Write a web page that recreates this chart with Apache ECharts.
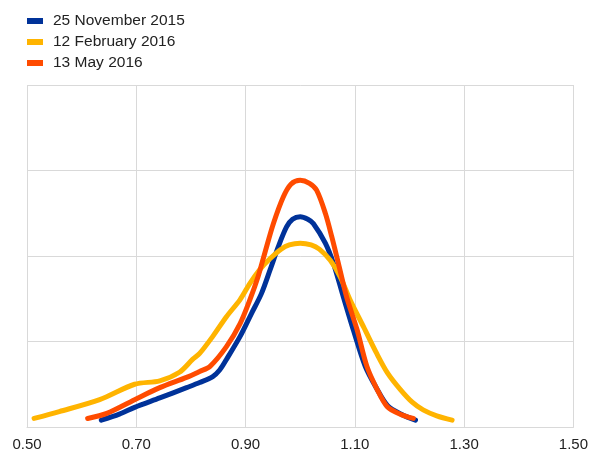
<!DOCTYPE html>
<html>
<head>
<meta charset="utf-8">
<script src="https://cdn.jsdelivr.net/npm/echarts@6/dist/echarts.min.js"></script>
<style>html,body{margin:0;padding:0;background:#fff}#c{width:591px;height:455px}</style>
</head>
<body>
<div id="c"></div>
<script>
var seriesNames = ['25 November 2015', '12 February 2016', '13 May 2016'];
var xTicks = ['0.50', '0.70', '0.90', '1.10', '1.30', '1.50'];

var novX = [0.636, 0.669, 0.697, 0.743, 0.792, 0.816, 0.840, 0.853, 0.865, 0.890, 0.911, 0.929, 0.945, 0.960, 0.975, 0.986, 1.000, 1.014, 1.024, 1.046, 1.061, 1.079, 1.097, 1.119, 1.140, 1.160, 1.185, 1.211];
var novY = [0.08, 0.15, 0.23, 0.34, 0.46, 0.52, 0.59, 0.67, 0.79, 1.06, 1.33, 1.56, 1.84, 2.11, 2.34, 2.43, 2.46, 2.43, 2.38, 2.15, 1.91, 1.52, 1.14, 0.71, 0.45, 0.25, 0.15, 0.08];

var febX = [0.513, 0.559, 0.633, 0.697, 0.743, 0.779, 0.803, 0.816, 0.840, 0.865, 0.890, 0.908, 0.926, 0.945, 0.965, 0.980, 1.000, 1.020, 1.035, 1.055, 1.073, 1.091, 1.116, 1.140, 1.160, 1.183, 1.205, 1.225, 1.250, 1.278];
var febY = [0.10, 0.18, 0.32, 0.50, 0.54, 0.64, 0.79, 0.86, 1.06, 1.29, 1.49, 1.68, 1.84, 1.97, 2.08, 2.13, 2.15, 2.13, 2.08, 1.95, 1.76, 1.49, 1.17, 0.86, 0.63, 0.44, 0.29, 0.20, 0.13, 0.08];

var mayX = [0.611, 0.646, 0.697, 0.743, 0.792, 0.816, 0.835, 0.865, 0.890, 0.908, 0.923, 0.935, 0.951, 0.969, 0.983, 1.000, 1.017, 1.030, 1.046, 1.058, 1.070, 1.085, 1.104, 1.122, 1.140, 1.159, 1.183, 1.207];
var mayY = [0.10, 0.16, 0.32, 0.46, 0.58, 0.65, 0.71, 0.94, 1.21, 1.49, 1.76, 2.03, 2.38, 2.69, 2.84, 2.885, 2.85, 2.77, 2.50, 2.22, 1.91, 1.52, 1.14, 0.71, 0.45, 0.24, 0.15, 0.10];

var colors = ['#003299', '#FFB400', '#FF4B00'];

function pairs(xs, ys) { return xs.map(function (x, i) { return [x, ys[i]]; }); }
var datasets = [pairs(novX, novY), pairs(febX, febY), pairs(mayX, mayY)];

var chart = echarts.init(document.getElementById('c'), null, {renderer: 'canvas'});
chart.setOption({
  animation: false,
  color: colors,
  textStyle: {fontFamily: 'Liberation Sans, Arial, sans-serif'},
  legend: {
    orient: 'vertical', left: 22, top: 8, itemGap: 5,
    icon: 'rect', itemWidth: 16, itemHeight: 6,
    textStyle: {fontSize: 15.5, color: '#222', padding: [0, 0, 0, 5], lineHeight: 14},
    data: seriesNames
  },
  grid: {left: 27, right: 17, top: 85, bottom: 28, containLabel: false},
  xAxis: {
    type: 'value', min: 0.5, max: 1.5, interval: 0.2,
    axisLine: {show: true, lineStyle: {color: '#d9d9d9', width: 1}},
    axisTick: {show: false},
    axisLabel: {fontSize: 15, color: '#222', margin: 10,
      formatter: function (v) { var s = v.toFixed(2); return xTicks.indexOf(s) >= 0 ? s : ''; }},
    splitLine: {show: true, lineStyle: {color: '#d9d9d9', width: 1}}
  },
  yAxis: {
    type: 'value', min: 0, max: 4, interval: 1,
    axisLine: {show: false}, axisTick: {show: false}, axisLabel: {show: false},
    splitLine: {show: true, lineStyle: {color: '#d9d9d9', width: 1}}
  },
  series: seriesNames.map(function (n, i) {
    return {
      name: n, type: 'line', smooth: 0.3, showSymbol: false, data: datasets[i],
      lineStyle: {width: 5, color: colors[i], cap: 'round', join: 'round'},
      itemStyle: {color: colors[i]}
    };
  })
});
</script>
</body>
</html>
